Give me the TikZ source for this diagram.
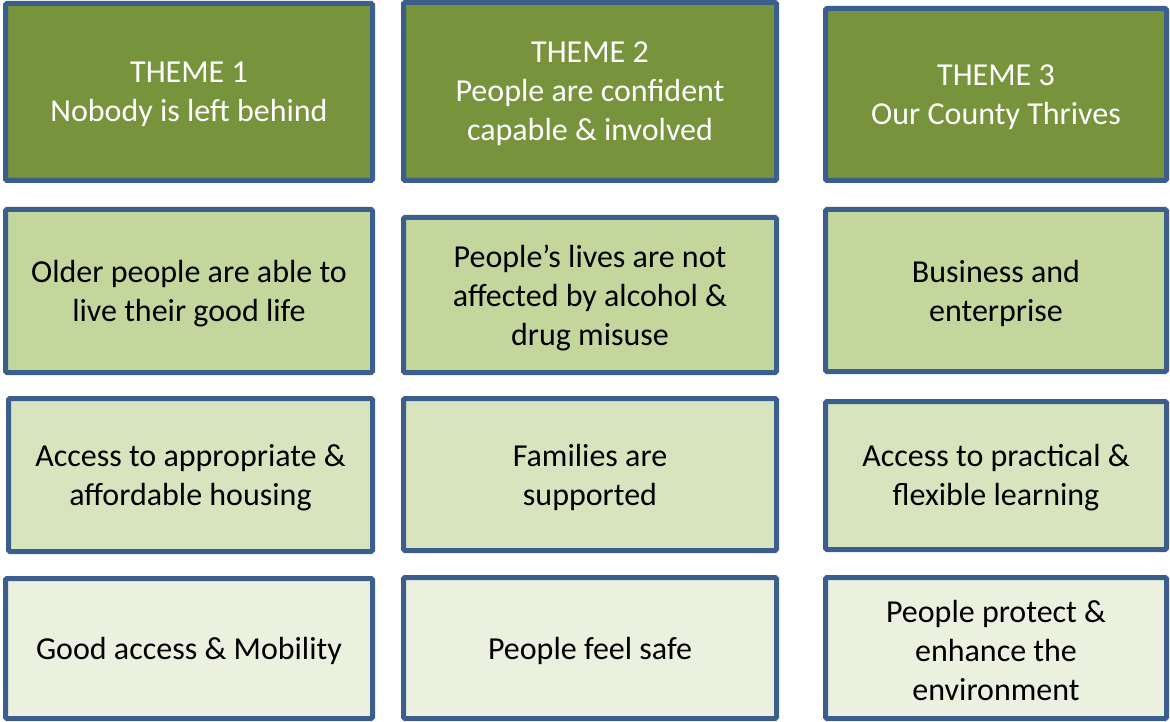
\documentclass[tikz,border=0pt]{standalone}
\usepackage{fontspec}
\setmainfont{Carlito}
\definecolor{bord}{HTML}{3B5E8C}
\definecolor{dark}{HTML}{77933C}
\definecolor{lightA}{HTML}{C3D69B}
\definecolor{lightB}{HTML}{D7E4BD}
\definecolor{lightC}{HTML}{EBF1DE}
\tikzset{
  box/.style={draw=bord, line width=5pt, rounded corners=1.5pt, inner sep=0pt},
  boxtxt/.style={font=\fontsize{32}{39}\selectfont, align=center, text=black, inner sep=0pt, yshift=-2.5pt},
  themetxt/.style={boxtxt, text=white},
  themebox/.style={box, fill=dark, label={[themetxt]center:{#1}}},
  rowA/.style={box, fill=lightA, label={[boxtxt]center:{#1}}},
  rowB/.style={box, fill=lightB, label={[boxtxt]center:{#1}}},
  rowC/.style={box, fill=lightC, label={[boxtxt]center:{#1}}},
}
\begin{document}
\begin{tikzpicture}[x=1pt,y=-1pt]
\useasboundingbox (0,0) rectangle (1170,722);
% row 1
\node[themebox={THEME 1\\Nobody is left behind}, minimum width=367pt, minimum height=177pt] (t1) at (189,92) {};
\node[themebox={THEME 2\\People are confident\\capable \& involved}, minimum width=373pt, minimum height=178pt] (t2) at (590,91.5) {};
\node[themebox={THEME 3\\Our County Thrives}, minimum width=341pt, minimum height=172pt] (t3) at (996,94.5) {};
% row 2
\node[rowA={Older people are able to\\live their good life}, minimum width=367pt, minimum height=163pt] (a1) at (189,291) {};
\node[rowA={People’s lives are not\\affected by alcohol \&\\drug misuse}, minimum width=373pt, minimum height=155pt] (a2) at (590,295) {};
\node[rowA={Business and\\enterprise}, minimum width=341pt, minimum height=162pt] (a3) at (996,290.5) {};
% row 3
\node[rowB={Access to appropriate \&\\affordable housing}, minimum width=364pt, minimum height=153pt] (b1) at (190.5,475) {};
\node[rowB={Families are\\supported}, minimum width=373pt, minimum height=152pt] (b2) at (590,474.5) {};
\node[rowB={Access to practical \&\\flexible learning}, minimum width=341pt, minimum height=148pt] (b3) at (996,475.5) {};
% row 4
\node[rowC={Good access \& Mobility}, minimum width=367pt, minimum height=140pt] (c1) at (189,648.5) {};
\node[rowC={People feel safe}, minimum width=373pt, minimum height=141pt] (c2) at (590,648) {};
\node[rowC={People protect \&\\enhance the\\environment}, minimum width=341pt, minimum height=141pt] (c3) at (996,648) {};
\end{tikzpicture}
\end{document}
